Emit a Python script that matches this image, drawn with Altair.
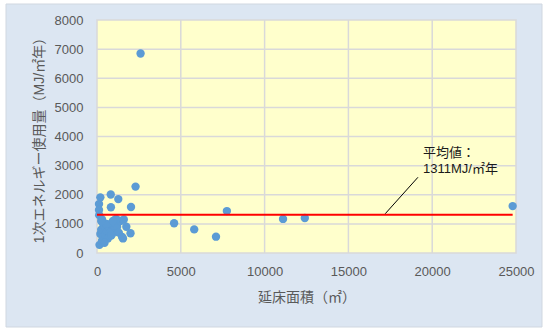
import altair as alt
import pandas as pd

# Floor area (m2) and primary energy use intensity (MJ/m2·year) per building
floor_area = [
    2600, 2300, 200, 820, 1270, 830, 2030, 120, 120, 130,
    150, 300, 200, 250, 400, 350, 500, 600, 700, 800,
    900, 650, 450, 1000, 1100, 1200, 1300, 1400, 1500, 1600,
    1750, 2000, 1550, 1150, 550, 750, 950, 850, 300, 250,
    4600, 5800, 7100, 7750, 11100, 12400, 24800,
]
energy_use = [
    6850, 2280, 1910, 2010, 1850, 1570, 1580, 1680, 1480, 1300,
    280, 420, 650, 800, 950, 1050, 600, 750, 900, 1000,
    650, 500, 350, 800, 1150, 900, 700, 1100, 550, 1150,
    900, 680, 500, 1170, 1000, 700, 1100, 600, 1150, 1100,
    1020, 810, 560, 1440, 1170, 1200, 1610,
]

mean_value = 1311
mean_span = [0, 24800]
x_ticks = [5000, 10000, 15000, 20000]
y_ticks = [1000, 2000, 3000, 4000, 5000, 6000, 7000]
x_labels = [0, 5000, 10000, 15000, 20000, 25000]
y_labels = [0, 1000, 2000, 3000, 4000, 5000, 6000, 7000, 8000]
note_lines = ["平均値：", "1311MJ/㎡年"]
note_x = 19450
note_y = [3430, 2880]
leader_x = [17200, 19150]
leader_y = [1350, 2600]

W, H = 419, 233
FONT = "Liberation Sans, Noto Sans CJK JP, sans-serif"
GRID = "#d9d9d9"
TEXT = "#595959"

xs = alt.Scale(domain=[0, 25000], nice=False)
ys = alt.Scale(domain=[0, 8000], nice=False)

# One axis definition shared by every layer, so the merged axes stay consistent
X_AXIS = alt.Axis(
    title="延床面積（㎡）", values=x_labels, format="d", zindex=1,
    grid=False, domain=False, ticks=False, labelPadding=12,
    labelFlush=False, labelOverlap=False, labelBound=False,
    labelFont=FONT, labelFontSize=13, labelColor=TEXT,
    titleFont=FONT, titleFontSize=14, titleColor=TEXT, titleFontWeight="normal",
    titleX=W / 2, titleY=44, titleBaseline="middle", titleAlign="center",
)
Y_AXIS = alt.Axis(
    title="1次エネルギー使用量（MJ/㎡年）", values=y_labels, format="d", zindex=1,
    grid=False, domain=False, ticks=False, labelPadding=14,
    labelFlush=False, labelOverlap=False, labelBound=False,
    labelFont=FONT, labelFontSize=13, labelColor=TEXT,
    titleFont=FONT, titleFontSize=14, titleColor=TEXT, titleFontWeight="normal",
    titleX=-58, titleY=H / 2, titleBaseline="middle", titleAlign="center", titleAngle=-90,
)


def xq(field):
    return alt.X(field, type="quantitative", scale=xs, axis=X_AXIS)


def yq(field):
    return alt.Y(field, type="quantitative", scale=ys, axis=Y_AXIS)


points_df = pd.DataFrame({"area": floor_area, "energy": energy_use})
one = alt.Data(values=[{}])

outer = alt.Chart(one).mark_rect(fill="#dce6f2", stroke="#d0d7e0", strokeWidth=1).encode(
    x=alt.value(-91), x2=alt.value(445), y=alt.value(-16), y2=alt.value(307)
)
plot_bg = alt.Chart(one).mark_rect(fill="#ffffcc", stroke=GRID, strokeWidth=1.5).encode(
    x=alt.value(0), x2=alt.value(W), y=alt.value(0), y2=alt.value(H)
)
vgrid = alt.Chart(pd.DataFrame({"area": x_ticks})).mark_rule(color=GRID, strokeWidth=1.5).encode(
    x=xq("area")
)
hgrid = alt.Chart(pd.DataFrame({"energy": y_ticks})).mark_rule(color=GRID, strokeWidth=1.5).encode(
    y=yq("energy")
)

points = alt.Chart(points_df).mark_circle(size=70, color="#5b9bd5", opacity=1).encode(
    x=xq("area"), y=yq("energy")
)

mean_df = pd.DataFrame({"area": [mean_span[0]], "area2": [mean_span[1]], "energy": [mean_value]})
mean_line = alt.Chart(mean_df).mark_rule(color="#ff0000", strokeWidth=2).encode(
    x=xq("area"), x2="area2:Q", y=yq("energy")
)

leader_df = pd.DataFrame({"area": leader_x, "energy": leader_y})
leader = alt.Chart(leader_df).mark_line(color="#000000", strokeWidth=1).encode(
    x=xq("area"), y=yq("energy")
)

note_df = pd.DataFrame({"area": [note_x] * 2, "energy": note_y, "label": note_lines})
note = alt.Chart(note_df).mark_text(
    align="left", baseline="middle", font=FONT, fontSize=13, color="#1a1a1a"
).encode(x=xq("area"), y=yq("energy"), text="label:N")

chart = (
    alt.layer(outer, plot_bg, vgrid, hgrid, points, mean_line, leader, note)
    .properties(
        width=W, height=H, background="#ffffff",
        autosize=alt.AutoSizeParams(type="none"),
        padding={"left": 97, "top": 20, "right": 28, "bottom": 76},
    )
    .configure_view(stroke=None)
)

chart.save("out.html", embed_options={"renderer": "svg", "actions": False})
